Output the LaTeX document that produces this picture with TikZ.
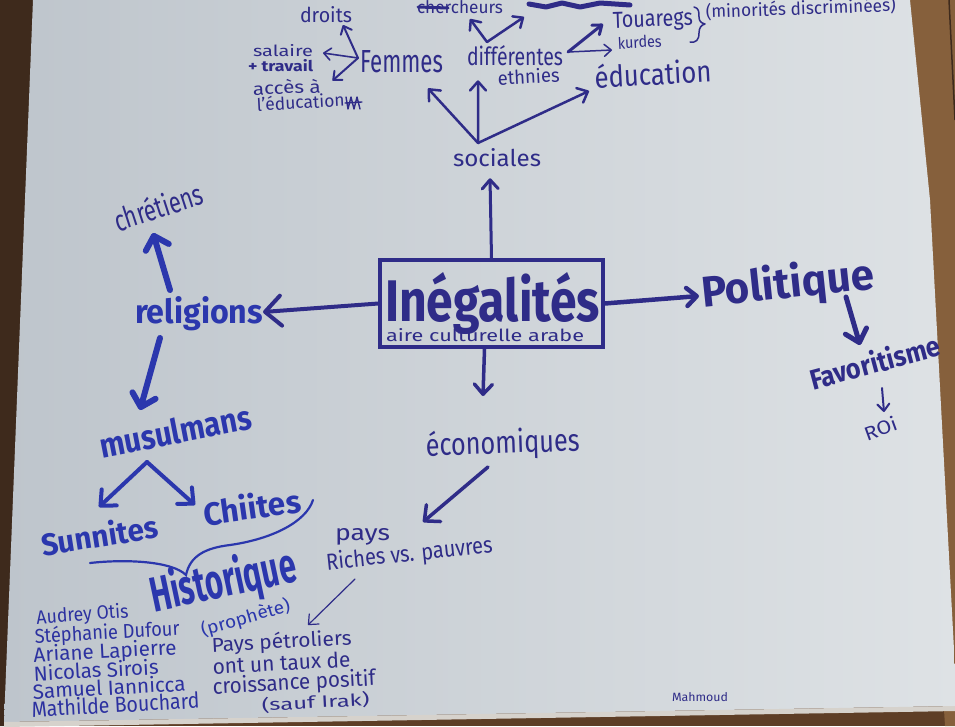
\documentclass[tikz,border=0pt]{standalone}
\usepackage{fontspec}
\setmainfont{Fira Sans}
\usepackage{graphicx}
\usetikzlibrary{arrows.meta,calc}

\definecolor{ink}{HTML}{2F2C88}
\definecolor{marker}{HTML}{2B37AD}
\definecolor{ink2}{HTML}{2C31A0}
\definecolor{woodD}{HTML}{3E2A1C}
\definecolor{woodM}{HTML}{5E3E26}
\definecolor{woodL}{HTML}{86603C}
\definecolor{boardL}{HTML}{BEC5CC}
\definecolor{boardR}{HTML}{DEE2E5}
\definecolor{sheet}{HTML}{D6D2CC}

% text squeezed to a given width and height (in pt)
\newcommand{\hw}[3]{\resizebox{#1pt}{#2pt}{#3}}

\tikzset{
  txt/.style={inner sep=0pt, outer sep=0pt, anchor=base west, text=ink},
  bld/.style={txt, text=marker, font=\bfseries},
  arw/.style n args={3}{draw=ink, line width=#1, line cap=round, line join=round,
    -{Straight Barb[length=#2pt, width=#3pt, round]}},
  stroke/.style={draw=ink, line width=#1, line cap=round, line join=round},
}

\begin{document}
\begin{tikzpicture}[x=1pt, y=-1pt]
\useasboundingbox (0,0) rectangle (955,726);

% wooden frame behind the poster
\fill[woodM] (0,0) rectangle (955,726);
\fill[woodD] (0,0) -- (42,0) -- (12,726) -- (0,726) -- cycle;
\fill[woodL] (900,0) -- (955,0) -- (955,726) -- (945,726) -- cycle;
\draw[woodD, line width=1.5pt] (949,0) -- (955,120);

% poster board
\shade[left color=boardL, right color=boardR]
  (33,0) -- (910,0) -- (930,200) -- (957,706) -- (4,722) -- cycle;
\fill[sheet] (4,722) -- (957,706) -- (957,711) -- (4,727) -- cycle;

% ---------- centre ----------
\node[draw=ink, line width=3.5pt, minimum width=223pt, minimum height=87pt,
      inner sep=0pt] (box) at (491.5,303.5) {};
\node[txt, font=\bfseries] (ineg) at (385,321) {\hw{215}{49}{Inégalités}};
\node[txt] (aire) at (386,341) {\hw{198}{13}{aire culturelle arabe}};

% ---------- sociales ----------
\node[txt] (soc) at (453,166) {\hw{88}{18}{sociales}};
\node[txt] (fem) at (360,72) {\hw{83}{22}{Femmes}};
\node[txt] (dif) at (467,65) {\hw{96}{20}{différentes}};
\node[txt, rotate=3] (eth) at (498,85) {\hw{62}{15}{ethnies}};
\node[txt, rotate=3] (edu) at (595,88) {\hw{117}{24}{éducation}};
\node[txt] (dro) at (300,22) {\hw{52}{16}{droits}};
\node[txt] (sal) at (253,56) {\hw{60}{12}{salaire}};
\node[txt, font=\bfseries] (trav) at (248,71) {\hw{65}{12}{+ travail}};
\node[txt, rotate=2] (acc) at (253,95) {\hw{68}{14}{accès à}};
\node[txt, rotate=3] (leduc) at (257,111) {\hw{88}{14}{l'éducation}};
\node[txt, rotate=2] (tou) at (613,28) {\hw{80}{16}{Touaregs}};
\node[txt, rotate=3] (kur) at (618,49) {\hw{44}{12}{kurdes}};
\node[txt, rotate=2] (mino) at (706,18) {\hw{190}{15}{(minorités discriminées)}};
\node[txt] (cher) at (417,13) {\hw{86}{13}{chercheurs}};

% crossed-out words at the top edge and the small scribble
\draw[stroke=3pt] (418,7) -- (448,8);
\draw[stroke=5pt] (529,4) -- (546,7) -- (562,3) -- (580,7) -- (600,3) -- (630,5);
\draw[stroke=1.4pt] (346,97) -- (348,109) -- (351,97) -- (354,109) -- (357,97) -- (360,109)
  (345,103) -- (362,102);

% brace after Touaregs / kurdes
\draw[stroke=1.5pt] (694,7) .. controls (699,8) and (699,12) .. (699,17)
  .. controls (699,21) and (701,23) .. (705,24)
  .. controls (701,25) and (699,28) .. (699,33)
  .. controls (699,40) and (696,43) .. (690,42);

\coordinate (sochub) at ($(soc.north)+(-19,-5)$);
\draw[arw={3pt}{9}{16}] (box.north) -- ($(soc.south)+(-7,12)$);
\draw[arw={2.5pt}{9}{16}] (sochub) -- ($(fem.south east)+(-15,16)$);
\draw[arw={2.5pt}{9}{16}] (sochub) -- ($(dif.south west)+(11,15)$);
\draw[arw={2.5pt}{9}{16}] (sochub) -- ($(edu.base west)+(-6,3)$);

\coordinate (femhub) at ($(fem.base west)+(-2,-14)$);
\draw[arw={2pt}{7}{12}] (femhub) -- ($(dro.base west)+(43,3)$);
\draw[arw={1.6pt}{7}{12}] (femhub) -- ($(sal.base east)+(10,-3)$);
\draw[arw={2pt}{7}{12}] (femhub) -- ($(acc.north east)+(12,2)$);

\coordinate (difhub) at ($(dif.north west)+(20,-3)$);
\coordinate (scrib) at (524,17);
\draw[arw={2.5pt}{8}{14}] (difhub) -- ($(cher.base west)+(53,6)$);
\draw[arw={2.5pt}{8}{14}] (difhub) -- (scrib);
\coordinate (difr) at ($(dif.base east)+(5,-13)$);
\draw[arw={3pt}{8}{12}] (difr) -- ($(tou.base west)+(-10,-4)$);
\draw[arw={1.5pt}{7}{12}] (difr) -- ($(kur.base west)+(-6,1)$);

% ---------- religions ----------
\node[bld] (rel) at (135,323) {\hw{128}{27}{religions}};
\node[txt, rotate=18] (chr) at (118,232) {\hw{92}{24}{chrétiens}};
\node[bld, rotate=11] (mus) at (102,458) {\hw{154}{26}{musulmans}};
\node[bld, rotate=9] (sun) at (43,556) {\hw{118}{25}{Sunnites}};
\node[bld, rotate=8] (chi) at (205,526) {\hw{98}{26}{Chiites}};
\node[bld, rotate=12] (his) at (154,612) {\hw{148}{40}{Historique}};
\node[txt, text=marker, rotate=16] (pro) at (203,636) {\hw{92}{15}{(prophète)}};

\draw[arw={4pt}{16}{30}] (box.west) -- ($(rel.base east)+(0,-11)$);
\draw[arw={6pt}{12}{24}, draw=marker] ($(rel.north west)+(35,-6)$) -- ($(chr.base west)+(35,1)$);
\draw[arw={6pt}{12}{24}, draw=marker] ($(rel.base west)+(25,15)$) -- ($(mus.base west)+(38,-48)$);
\coordinate (mushub) at ($(mus.base west)+(45,4)$);
\draw[arw={4pt}{12}{22}, draw=marker] (mushub) -- ($(sun.base west)+(56,-49)$);
\draw[arw={4pt}{12}{22}, draw=marker] (mushub) -- ($(chi.base west)+(-10,-21)$);

% brace joining Sunnites and Chiites
\draw[draw=marker, line width=2.2pt, line cap=round]
  (90,563) .. controls (125,559) and (172,561) .. (186,575)
  .. controls (190,556) and (205,548) .. (230,545)
  .. controls (272,539) and (306,522) .. (313,500);

% ---------- names ----------
\node[txt, text=ink2, rotate=4] (n1) at (37,624) {\hw{92}{15}{Audrey Otis}};
\node[txt, text=ink2, rotate=3] (n2) at (35,643) {\hw{145}{16}{Stéphanie Dufour}};
\node[txt, text=ink2, rotate=3] (n3) at (34,662) {\hw{143}{16}{Ariane Lapierre}};
\node[txt, text=ink2, rotate=3] (n4) at (34,681) {\hw{125}{16}{Nicolas Sirois}};
\node[txt, text=ink2, rotate=3] (n5) at (33,699) {\hw{153}{16}{Samuel Iannicca}};
\node[txt, text=ink2, rotate=3] (n6) at (32,717) {\hw{168}{17}{Mathilde Bouchard}};

% ---------- économiques ----------
\node[txt, rotate=2] (eco) at (426,456) {\hw{154}{25}{économiques}};
\node[txt] (pay) at (335,540) {\hw{55}{12}{pays}};
\node[txt, rotate=6] (ric) at (327,570) {\hw{167}{18}{Riches vs. pauvres}};
\node[txt, rotate=3] (pet) at (212,652) {\hw{140}{16}{Pays pétroliers}};
\node[txt, rotate=3] (tau) at (213,674) {\hw{138}{16}{ont un taux de}};
\node[txt, rotate=3] (cro) at (213,694) {\hw{163}{17}{croissance positif}};
\node[txt, rotate=3] (sau) at (262,711) {\hw{108}{14}{(sauf Irak)}};

\draw[arw={3.5pt}{10}{18}] ($(box.south)+(-7,0)$) -- ($(eco.base west)+(57,-60)$);
\draw[arw={3.5pt}{12}{22}] ($(eco.base west)+(62,11)$) -- ($(pay.north east)+(33,-6)$);
\draw[arw={1.2pt}{8}{14}] ($(ric.base west)+(28,9)$) -- ($(pet.base west)+(96,-27)$);

% ---------- politique ----------
\node[txt, font=\bfseries, rotate=6] (pol) at (703,307) {\hw{173}{35}{Politique}};
\node[txt, font=\bfseries, rotate=15] (fav) at (813,390) {\hw{134}{23}{Favoritisme}};
\node[txt, rotate=20] (roi) at (867,441) {\hw{34}{15}{ROi}};

\draw[arw={4.5pt}{10}{18}] (box.east) -- ($(pol.base west)+(-4,-11)$);
\draw[arw={5pt}{12}{22}] ($(pol.base west)+(143,-10)$) -- ($(fav.base west)+(47,-45)$);
\draw[arw={2pt}{7}{12}] ($(fav.base west)+(69,-2)$) -- ($(roi.base west)+(17,-29)$);

\node[txt] (mah) at (672,701) {\hw{56}{9}{Mahmoud}};
\end{tikzpicture}
\end{document}
